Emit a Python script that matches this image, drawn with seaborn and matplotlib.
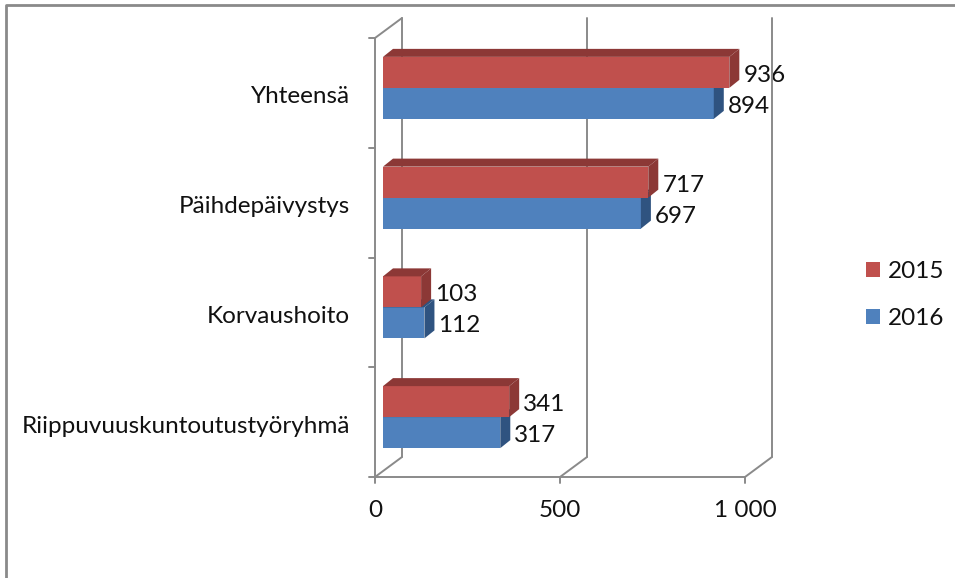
import pandas as pd
import matplotlib
matplotlib.use('Agg')
import matplotlib.pyplot as plt
import matplotlib.transforms as mtransforms
from matplotlib.patches import Polygon, Patch
from matplotlib.lines import Line2D
from matplotlib.colors import to_rgba
import seaborn as sns

# data
categories = ['Yhteensä', 'Päihdepäivystys', 'Korvaushoito', 'Riippuvuuskuntoutustyöryhmä']
years = ['2015', '2016']
values_2015 = [936, 717, 103, 341]
values_2016 = [894, 697, 112, 317]
x_ticks = [0, 500, 1000]
x_tick_labels = ['0', '500', '1 000']

df = pd.DataFrame({
    'kategoria': categories * 2,
    'vuosi': [years[0]] * len(categories) + [years[1]] * len(categories),
    'arvo': values_2015 + values_2016,
})

colors = {'2015': '#C0504D', '2016': '#4F81BD'}
dark = {'2015': '#8C3836', '2016': '#2F5380'}
frame_col = '#8A8A8A'
txt_col = '#111111'
fs = 17.5

sns.set_style('white')
plt.rcParams['font.family'] = ['Lato', 'DejaVu Sans']

fig = plt.figure(figsize=(9.55, 5.78), dpi=100)
ax = fig.add_axes([383 / 955, 106 / 578, 370 / 955, 439 / 578])
sns.barplot(data=df, y='kategoria', x='arvo', hue='vuosi', hue_order=years,
            palette=colors, orient='h', width=0.565, saturation=1,
            linewidth=0, legend=False, ax=ax)
ax.set_xlim(0, 1000)
ax.set_ylim(3.5, -0.5)
ax.set_xticks([])
ax.set_yticks([])
ax.set_xlabel('')
ax.set_ylabel('')
for s in ax.spines.values():
    s.set_visible(False)
ax.patch.set_alpha(0)


def off(dx, dy):
    return mtransforms.offset_copy(ax.transData, fig=fig, x=dx, y=dy, units='dots')


def pt(x, y, dx=0, dy=0):
    px, py = ax.transData.transform((x, y))
    return px + dx, py + dy


ident = mtransforms.IdentityTransform()
FRONT = (-8, -5)
BACK = (19, 15)


def seg(a, b):
    fig.add_artist(Line2D([a[0], b[0]], [a[1], b[1]], transform=ident,
                          color=frame_col, lw=1.4, zorder=1))


# 3d frame: back wall gridlines, floor diagonals, front axes
for t in x_ticks:
    seg(pt(t, 3.5, *BACK), pt(t, -0.5, *BACK))
    seg(pt(t, 3.5, *FRONT), pt(t, 3.5, *BACK))
    fx, fy = pt(t, 3.5, *FRONT)
    seg((fx, fy), (fx, fy - 6))
seg(pt(0, -0.5, *FRONT), pt(0, -0.5, *BACK))
seg(pt(0, -0.5, *FRONT), pt(0, 3.5, *FRONT))
seg(pt(0, 3.5, *FRONT), pt(1000, 3.5, *FRONT))
for b in [-0.5, 0.5, 1.5, 2.5, 3.5]:
    fx, fy = pt(0, b, *FRONT)
    seg((fx - 6, fy), (fx, fy))

# bars: front face from seaborn's patches, plus top and side faces
DX, DY = 10, 8
for p in ax.patches:
    yr = '2015' if tuple(p.get_facecolor()) == to_rgba(colors['2015']) else '2016'
    z = 3 if yr == '2015' else 2
    x0, y0 = p.get_x(), p.get_y()
    x1, y1 = x0 + p.get_width(), y0 + p.get_height()
    a = ax.transData.transform((x0, y0))
    b = ax.transData.transform((x1, y1))
    left, right = min(a[0], b[0]), max(a[0], b[0])
    bot, top = min(a[1], b[1]), max(a[1], b[1])
    side = [(right, bot), (right, top), (right + DX, top + DY), (right + DX, bot + DY)]
    topf = [(left, top), (right, top), (right + DX, top + DY), (left + DX, top + DY)]
    for poly in (side, topf):
        fig.add_artist(Polygon(poly, closed=True, transform=ident, facecolor=dark[yr],
                               edgecolor='none', zorder=z + 0.5))
    fig.add_artist(Polygon([(left, bot), (right, bot), (right, top), (left, top)],
                           closed=True, transform=ident, facecolor=colors[yr],
                           edgecolor='none', zorder=z))
    p.set_visible(False)
    cy = (y0 + y1) / 2
    ax.text(p.get_width(), cy, f'{p.get_width():.0f}', transform=off(14, -9.5),
            ha='left', va='baseline', fontsize=fs, color=txt_col, zorder=5)

# category labels
for i, c in enumerate(categories):
    ax.text(0, i, c, transform=off(-33, -15.5), ha='right', va='baseline',
            fontsize=fs, color=txt_col)

# x tick labels on the front plane
for t, lab in zip(x_ticks, x_tick_labels):
    ax.text(t, 3.5, lab, transform=off(FRONT[0], FRONT[1] - 40), ha='center',
            va='baseline', fontsize=fs, color=txt_col)

handles = [Patch(facecolor=colors[y], edgecolor='none') for y in years]
fig.legend(handles, years, loc='center left', bbox_to_anchor=(866 / 955, 1 - 295 / 578),
           frameon=False, handlelength=0.58, handleheight=0.58, handletextpad=0.33,
           labelspacing=1.07, borderpad=0, borderaxespad=0, fontsize=fs,
           labelcolor=txt_col)

# chart border (left and top)
fig.add_artist(Line2D([6, 6, 955], [0, 573, 573], transform=ident,
                      color='#8A8A8A', lw=2))

fig.savefig('out.png', dpi=100)
